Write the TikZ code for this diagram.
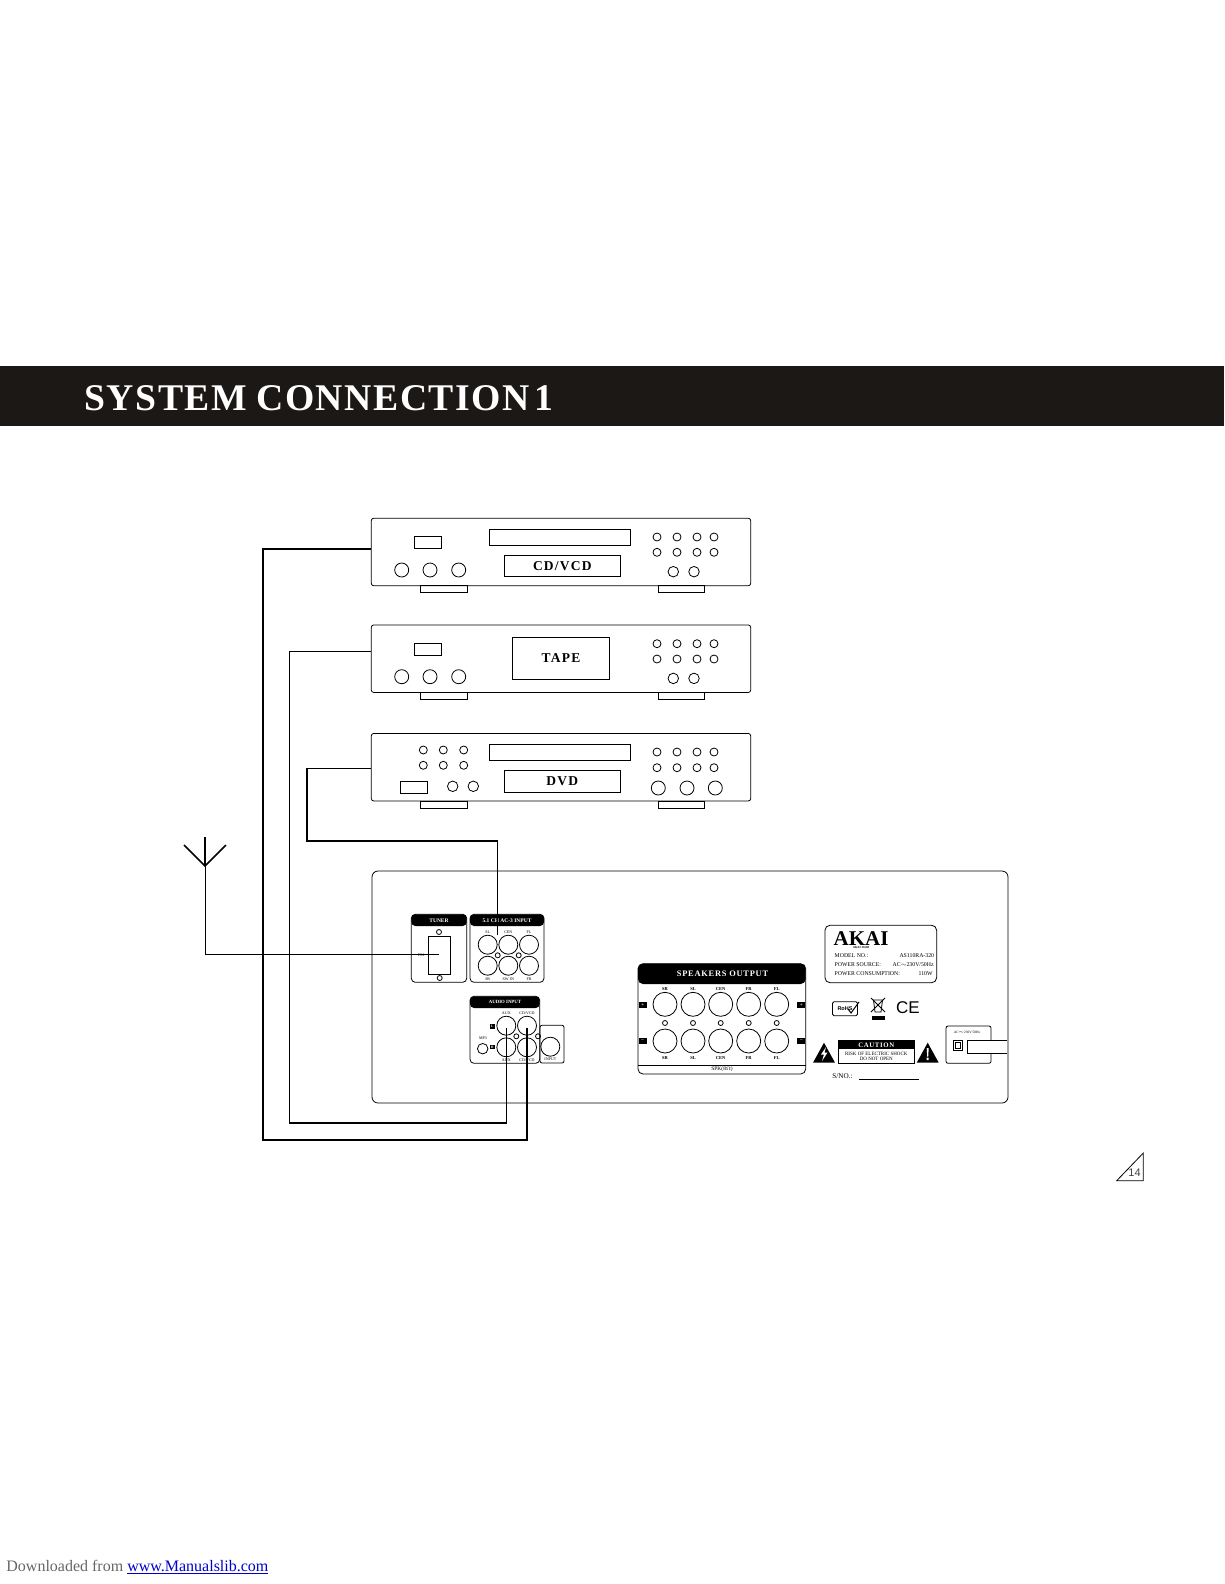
\documentclass[tikz,border=0pt]{standalone}
\usepackage{fontspec}
\setmainfont{Liberation Serif}
\newfontfamily\widefont[LetterSpace=9]{Liberation Serif}
\newfontfamily\titlefont[LetterSpace=4]{Liberation Serif}
\newfontfamily\armfont{Liberation Sans}
\usepackage{tikz}
\usetikzlibrary{positioning, calc}
\definecolor{barblack}{HTML}{1B1815}

\begin{document}
\begin{tikzpicture}[x=1pt, y=-1pt, line width=0.8pt,
  chassis/.style={draw, rounded corners=2.5pt, minimum width=379.5pt, minimum height=67.5pt, inner sep=0},
  foot/.style={draw, minimum width=46.5pt, minimum height=7.5pt, inner sep=0},
  plate/.style={draw, minimum height=12pt, minimum width=27pt, inner sep=0},
  tray/.style={draw, minimum width=141pt, minimum height=16pt, inner sep=0},
  namebox/.style={draw, minimum width=116.5pt, minimum height=21.5pt, inner sep=0, font=\bfseries\widefont\fontsize{13.5}{13.5}\selectfont},
  knob/.style={draw, circle, inner sep=0, minimum size=14pt},
  btn/.style={draw, circle, inner sep=0, minimum size=8pt},
  midbtn/.style={draw, circle, inner sep=0, minimum size=10.5pt},
  jack/.style={draw, circle, inner sep=0, minimum size=19pt},
  bigjack/.style={draw, circle, inner sep=0, minimum size=24pt},
  pin/.style={draw, circle, inner sep=0, minimum size=5pt},
  tiny/.style={inner sep=0, font=\fontsize{4}{4}\selectfont},
  spklabel/.style={inner sep=0, font=\bfseries\fontsize{4.5}{4.5}\selectfont},
  headtext/.style={inner sep=0, text=white, font=\bfseries\fontsize{5.5}{5.5}\selectfont},
  signbox/.style={fill=black, text=white, inner sep=0, minimum size=6pt, font=\bfseries\fontsize{5}{5}\selectfont},
  infotext/.style={inner sep=0, anchor=west, font=\fontsize{5.8}{5.8}\selectfont},
  wire/.style={line width=1.1pt}]
\useasboundingbox (0,0) rectangle (1224,1584);

% title
\fill[barblack] (0,366) rectangle (1224,425.5);
\node[anchor=base west, inner sep=0, text=white, font=\bfseries\titlefont\fontsize{37.7}{37.7}\selectfont] (title) at (84,410) {SYSTEM\hspace*{-1.5pt} CONNECTION\hspace*{-6pt} 1};

% CD/VCD
\node[chassis] (cd) at (561,552) {};
\node[foot] (cdfootl) at (444,589) {};
\node[foot] (cdfootr) at (681.5,589) {};
\node[plate] (cdplate) at (428.2,542.7) {};
\node[tray] (cdtray) at (560,537) {};
\node[namebox] (cdname) at (562.3,566) {CD/VCD};
\foreach \i/\xx in {1/401.7,2/430,3/458.7} \node[knob] (cdknob\i) at (\xx,570) {};
\foreach \i/\xx in {1/657,2/677,3/697,4/714} {
  \node[btn] (cdbtna\i) at (\xx,537) {};
  \node[btn] (cdbtnb\i) at (\xx,552.3) {};
}
\node[midbtn] (cdmida) at (673.3,571.7) {};
\node[midbtn] (cdmidb) at (694,571.7) {};

% TAPE
\node[chassis] (tape) at (561,658.7) {};
\node[foot] (tapefootl) at (444,695.7) {};
\node[foot] (tapefootr) at (681.5,695.7) {};
\node[plate] (tapeplate) at (428.2,649.4) {};
\node[namebox, minimum width=97.4pt, minimum height=42pt] (tapename) at (561,658.3) {TAPE};
\foreach \i/\xx in {1/401.7,2/430,3/458.7} \node[knob] (tapeknob\i) at (\xx,676.7) {};
\foreach \i/\xx in {1/657,2/677,3/697,4/714} {
  \node[btn] (tapebtna\i) at (\xx,643.7) {};
  \node[btn] (tapebtnb\i) at (\xx,659) {};
}
\node[midbtn] (tapemida) at (673.3,678.4) {};
\node[midbtn] (tapemidb) at (694,678.4) {};

% DVD
\node[chassis] (dvd) at (561,767.2) {};
\node[foot] (dvdfootl) at (444,805) {};
\node[foot] (dvdfootr) at (681.5,805) {};
\node[plate] (dvdplate) at (414.2,787.3) {};
\node[tray] (dvdtray) at (560,752.5) {};
\node[namebox] (dvdname) at (562.3,781.2) {DVD};
\foreach \i/\xx in {1/423.3,2/443.3,3/463.7} {
  \node[btn] (dvdleda\i) at (\xx,750) {};
  \node[btn] (dvdledb\i) at (\xx,765.3) {};
}
\node[midbtn] (dvdmida) at (452.7,786.3) {};
\node[midbtn] (dvdmidb) at (473.3,786.3) {};
\foreach \i/\xx in {1/657,2/677,3/697,4/714} {
  \node[btn] (dvdbtna\i) at (\xx,752) {};
  \node[btn] (dvdbtnb\i) at (\xx,767.7) {};
}
\foreach \i/\xx in {1/658.3,2/687,3/715.3} \node[knob] (dvdknob\i) at (\xx,788) {};

% receiver back
\node[draw, rounded corners=6pt, minimum width=636pt, minimum height=232pt, inner sep=0] (amp) at (690,987) {};

% tuner
\draw[rounded corners=4pt] (411.3,914.3) rectangle (466.7,982.3);
\fill[rounded corners=4pt] (411.3,926) -- (411.3,914.3) -- (466.7,914.3) -- (466.7,926) -- cycle;
\node[headtext] (tunerhead) at (439,920.3) {TUNER};
\node[draw, minimum width=22.4pt, minimum height=38pt, inner sep=0] (fm) at (439.5,955) {};
\node[pin] (tunerpina) at (439,932) {};
\node[pin] (tunerpinb) at (439.7,978) {};
\node[tiny] (fmtext) at (421,955.5) {FM};

% 5.1 input
\draw[rounded corners=4pt] (470,914.3) rectangle (544,982.3);
\fill[rounded corners=4pt] (470,926) -- (470,914.3) -- (544,914.3) -- (544,926) -- cycle;
\node[headtext] (multihead) at (507,920.3) {5.1 CH AC-3 INPUT};
\foreach \i/\xx/\txa/\txb in {1/487.7/SL/SR,2/508.3/CEN/SW IN,3/529/FL/FR} {
  \node[jack] (multia\i) at (\xx,944.7) {};
  \node[jack] (multib\i) at (\xx,965.7) {};
  \node[tiny] at (\xx,932) {\txa};
  \node[tiny] at (\xx,979) {\txb};
}
\node[pin] (multipina) at (497.7,955.3) {};
\node[pin] (multipinb) at (518.7,955.3) {};

% audio input
\draw[rounded corners=4pt] (470,996.3) rectangle (539.7,1063.3);
\fill[rounded corners=4pt] (470,1008) -- (470,996.3) -- (539.7,996.3) -- (539.7,1008) -- cycle;
\node[headtext, font=\bfseries\fontsize{4.8}{4.8}\selectfont] (audiohead) at (505,1002.3) {AUDIO INPUT};
\foreach \i/\xx/\txt in {1/506.3/AUX,2/527/CD{/}VCD} {
  \node[jack] (audioa\i) at (\xx,1025.7) {};
  \node[jack] (audiob\i) at (\xx,1047.3) {};
  \node[tiny] at (\xx,1013.5) {\txt};
  \node[tiny] at (\xx,1060.3) {\txt};
}
\node[signbox, minimum size=4.5pt, font=\bfseries\fontsize{3.5}{3.5}\selectfont] (audiol) at (492.3,1026.3) {L};
\node[signbox, minimum size=4.5pt, font=\bfseries\fontsize{3.5}{3.5}\selectfont] (audior) at (492.3,1047) {R};
\node[midbtn] (mpjack) at (482.7,1048.7) {};
\node[tiny] (mptext) at (483,1038.5) {MP3};
\node[pin] (audiopina) at (516.3,1036.3) {};
\node[pin] (audiopinb) at (538,1036.3) {};
\draw[rounded corners=2pt] (540,1025.3) rectangle (564,1063);
\node[jack] (subjack) at (550.3,1046.7) {};
\node[tiny] (subtext) at (550.3,1059.5) {INPUT};

% speakers
\draw[rounded corners=5pt] (638,963.7) rectangle (805.7,1074);
\fill[rounded corners=5pt] (638,984) -- (638,963.7) -- (805.7,963.7) -- (805.7,984) -- cycle;
\draw (638,1065) -- (805.7,1065);
\node[headtext, font=\bfseries\widefont\fontsize{8.4}{8.4}\selectfont] (spkhead) at (722.5,974) {SPEAKERS OUTPUT};
\foreach \i/\xx/\txt in {1/665/SR,2/693/SL,3/720.7/CEN,4/748.7/FR,5/776.7/FL} {
  \node[bigjack] (spka\i) at (\xx,1004.3) {};
  \node[bigjack] (spkb\i) at (\xx,1041) {};
  \node[pin] (spkpin\i) at (\xx,1023) {};
  \node[spklabel] at (\xx,989) {\txt};
  \node[spklabel] at (\xx,1057.7) {\txt};
}
\node[signbox, minimum width=8pt] (spkpl) at (642.7,1004.7) {+};
\node[signbox, minimum width=8pt] (spkpr) at (801.3,1004.7) {+};
\node[signbox, minimum width=8pt] (spkml) at (642.7,1041.3) {--};
\node[signbox, minimum width=8pt] (spkmr) at (801.3,1041.3) {--};
\node[inner sep=0, font=\fontsize{5.5}{5.5}\selectfont] (spktext) at (722,1069.5) {SPK(8$\Omega$)};

% rating label
\node[draw, rounded corners=5pt, minimum width=111.7pt, minimum height=57.4pt, inner sep=0] (rating) at (880.8,954) {};
\node[inner sep=0, font=\bfseries\fontsize{21}{21}\selectfont] (akai) at (861,938.5) {AKAI};
\node[inner sep=0, font=\bfseries\fontsize{3}{3}\selectfont] (akaisub) at (861,947.8) {AKAI 36508};
\node[infotext] (modela) at (834.3,955.7) {MODEL NO.:};
\node[infotext] (powera) at (834.3,964.7) {POWER SOURCE:};
\node[infotext] (consa) at (834.3,974) {POWER CONSUMPTION:};
\node[infotext, anchor=east] (modelb) at (934.5,955.7) {AS110RA-320};
\node[infotext, anchor=east] (powerb) at (934,964.7) {AC$\sim$230V/50Hz};
\node[infotext, anchor=east] (consb) at (933,974) {110W};

% marks
\node[draw, rounded corners=1.5pt, minimum width=25pt, minimum height=14pt, inner sep=0.5pt, font=\armfont\bfseries\fontsize{5.5}{5.5}\selectfont] (rohs) at (845,1008.7) {RoHS};
\draw[line width=1pt] (848,1009) -- (851,1013) -- (859,1002);
\node[inner sep=0] (weee) at (878,1006) {};
\draw (873.5,1000) -- (882.5,1000) -- (881,1012) -- (875,1012) -- cycle;
\draw (871,998) -- (885,1012) (885,998) -- (871,1012);
\fill (872,1016) rectangle (885,1019.5);
\node[inner sep=0, font=\armfont\fontsize{17}{17}\selectfont] (ce) at (908,1008) {CE};

% caution
\node[draw, minimum width=76pt, minimum height=23.3pt, inner sep=0] (caution) at (876.3,1051.6) {};
\fill (838.3,1040) rectangle (914.3,1049.3);
\node[inner sep=0, text=white, font=\bfseries\widefont\fontsize{6.8}{6.8}\selectfont] (cautionhead) at (876.3,1044.8) {CAUTION};
\node[inner sep=0, align=center, font=\fontsize{5}{5}\selectfont] (cautiontext) at (876.3,1056.5) {RISK OF ELECTRIC SHOCK\\DO NOT OPEN};
\fill (813,1062.7) -- (824,1042.7) -- (835,1062.7) -- cycle;
\fill[white] (826,1047) -- (821,1054.5) -- (824,1054.5) -- (822,1061) -- (827.5,1052.5) -- (824.5,1052.5) -- cycle;
\fill (916.7,1062.7) -- (927.7,1042.7) -- (938.7,1062.7) -- cycle;
\fill[white] (926.7,1048) -- (928.7,1048) -- (928.2,1056.5) -- (927.2,1056.5) -- cycle (926.7,1057.7) rectangle (928.7,1060);
\node[inner sep=0, anchor=west, font=\fontsize{7.2}{7.2}\selectfont] (serial) at (832,1075.7) {S/NO.:};
\coordinate (seriala) at (859,1079);
\coordinate (serialb) at (919,1079);
\draw (seriala) -- (serialb);

% mains
\draw[rounded corners=2pt] (946,1026) rectangle (991,1063.3);
\node[inner sep=0, font=\fontsize{3.5}{3.5}\selectfont] (mainstext) at (967,1032.3) {AC$\sim$230V 50Hz};
\node[draw, minimum size=9.4pt, inner sep=0] (inlet) at (958,1045.3) {};
\node[draw, minimum size=5.5pt, inner sep=0] (inletin) at (958,1045.3) {};
\fill[white] (967.3,1040) rectangle (1007,1053.3);
\coordinate (pluga) at (1007,1040);
\coordinate (plugb) at (967.3,1040);
\coordinate (plugc) at (967.3,1053.3);
\coordinate (plugd) at (1007,1053.3);
\draw (pluga) -- (plugb) -- (plugc) -- (plugd);

% antenna
\coordinate (anttop) at (205,866);
\coordinate (antl) at (184,845);
\coordinate (antr) at (226,845);
\coordinate (antup) at (205,837);
\coordinate (fmend) at (439,954);
\draw[line width=1.7pt] (antl) -- (anttop) -- (antr);
\draw[line width=1.7pt] (antup) -- (anttop);
\draw (anttop) |- (fmend);

% wires
\coordinate (cdout) at (371,549);
\coordinate (tapeout) at (371,651.7);
\coordinate (dvdout) at (371,768.3);
\coordinate (multiend) at (497.3,935);
\coordinate (auxend) at (506.7,1028);
\coordinate (cdend) at (527,1028);
\draw[wire] (cdout) -| (263,1140) -| (cdend);
\draw[wire] (tapeout) -| (289.5,1123) -| (auxend);
\draw[wire] (dvdout) -| (307,841) -| (multiend);

% page number
\coordinate (pagea) at (1116.7,1180.7);
\coordinate (pageb) at (1143.3,1180.7);
\coordinate (pagec) at (1143.3,1153);
\draw (pagea) -- (pageb) -- (pagec) -- cycle;
\node[inner sep=0, font=\armfont\fontsize{11}{11}\selectfont, text=black!75] (pagenum) at (1134.5,1172.5) {14};

% footer
\node[anchor=base west, inner sep=0, font=\fontsize{16}{16}\selectfont, text=black!60] (source) at (6,1571.7) {Downloaded from \textcolor{blue!80!black}{\underline{www.Manualslib.com}}};
\end{tikzpicture}
\end{document}
